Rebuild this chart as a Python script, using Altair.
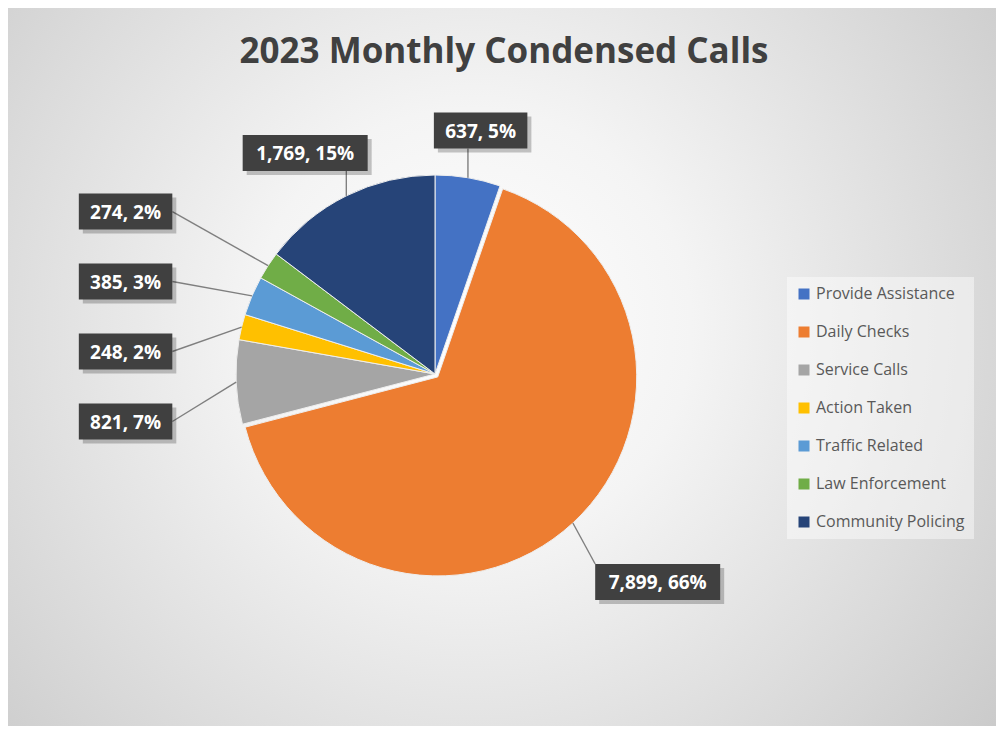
import json
import math
import altair as alt
import pandas as pd

# ---- data ----
categories = ["Provide Assistance", "Daily Checks", "Service Calls", "Action Taken",
              "Traffic Related", "Law Enforcement", "Community Policing"]
calls = [637, 7899, 821, 248, 385, 274, 1769]
colors = ["#4472C4", "#ED7D31", "#A5A5A5", "#FFC000", "#5B9BD5", "#70AD47", "#264478"]
exploded = ["Daily Checks"]
title_text = "2023 Monthly Condensed Calls"

# ---- layout constants ----
W, H = 988, 718
CX, CY, R = 427, 366, 199
EXPLODE = 4
LBL_R = 1.15      # radial distance factor for labels (top / right)
LBL_R_DOWN = 0.25 # extra distance for labels in the lower half
LEFT_COL = 1.32   # left label column (box right edge) as factor of R
LEFT_R = 1.5      # vertical spread factor for left labels
ROW_GAP = 70      # minimum vertical gap between left labels
HH = 18           # half box height

df = pd.DataFrame({"cat": categories, "calls": calls, "idx": list(range(len(categories)))})
total = int(sum(calls))

base = (
    alt.Chart(df)
    .transform_joinaggregate(total="sum(calls)")
    .transform_window(cum="sum(calls)", sort=[alt.SortField("idx")], frame=[None, 0])
    .transform_calculate(
        t0="datum.cum - datum.calls",
        mid="(datum.cum - datum.calls / 2) / datum.total * 2 * PI",
        label="format(datum.calls, ',') + ', ' + round(datum.calls / datum.total * 100) + '%'",
        dx="sin(datum.mid)",
        dy="-cos(datum.mid)",
        exp=f"indexof({json.dumps(exploded)}, datum.cat) >= 0 ? {EXPLODE} : 0",
        px=f"{CX} + datum.exp * datum.dx",
        py=f"{CY} + datum.exp * datum.dy",
        ex=f"datum.px + {R} * datum.dx",
        ey=f"datum.py + {R} * datum.dy",
        hw="(length(datum.label) * 10.5 + 20) / 2",
        side="datum.dx < -0.7 ? 'left' : 'other'",
        rl=f"{R} * ({LBL_R} + {LBL_R_DOWN} * max(datum.dy, 0))",
        lx=(f"datum.side == 'left' ? {CX} - {R * LEFT_COL} - datum.hw : "
            f"{CX} + datum.rl * datum.dx + datum.dx * datum.hw"),
        ly_raw=(f"datum.side == 'left' ? {CY} + {R * LEFT_R} * datum.dy : "
                f"{CY} + datum.rl * datum.dy + datum.dy * {HH}"),
    )
    .transform_window(k="row_number()", groupby=["side"], sort=[alt.SortField("ly_raw")])
    .transform_calculate(tmp=f"datum.ly_raw - datum.k * {ROW_GAP}")
    .transform_window(m="max(tmp)", groupby=["side"], sort=[alt.SortField("ly_raw")], frame=[None, 0])
    .transform_calculate(
        ly=f"datum.side == 'left' ? datum.m + datum.k * {ROW_GAP} : datum.ly_raw",
    )
    .transform_calculate(
        bx0="datum.lx - datum.hw", bx1="datum.lx + datum.hw",
        by0=f"datum.ly - {HH}", by1=f"datum.ly + {HH}",
        sx0="datum.lx - datum.hw + 4", sx1="datum.lx + datum.hw + 4",
        sy0=f"datum.ly - {HH} + 4", sy1=f"datum.ly + {HH} + 4",
        axx="datum.side == 'left' ? datum.lx + datum.hw : clamp(datum.ex, datum.lx - datum.hw, datum.lx + datum.hw)",
        axy=f"datum.side == 'left' ? datum.ly : clamp(datum.ey, datum.ly - {HH}, datum.ly + {HH})",
    )
)

def X(f):
    return alt.X(f"{f}:Q", scale=None, axis=None)

def Y(f):
    return alt.Y(f"{f}:Q", scale=None, axis=None)

gradient = alt.RadialGradient(
    gradient="radial",
    stops=[alt.GradientStop(color="#ffffff", offset=0),
           alt.GradientStop(color="#f4f4f4", offset=0.3),
           alt.GradientStop(color="#c4c4c4", offset=1)],
    x1=0.47, y1=0.46, r1=0, x2=0.47, y2=0.46, r2=0.74,
)

bg = alt.Chart(alt.Data(values=[{"a": 1}])).mark_rect(fill=gradient).encode(
    x=alt.value(0), x2=alt.value(W), y=alt.value(0), y2=alt.value(H)
)

arcs = base.mark_arc(outerRadius=R, stroke="#eeeeee", strokeWidth=1).encode(
    theta=alt.Theta("t0:Q", scale=alt.Scale(domain=[0, total], range=[0, 2 * math.pi]), stack=None),
    theta2="cum:Q",
    x=X("px"),
    y=Y("py"),
    color=alt.Color(
        "cat:N",
        scale=alt.Scale(domain=categories, range=colors),
        legend=alt.Legend(
            orient="none", legendX=779, legendY=269, title=None,
            symbolType="square", symbolSize=121, symbolStrokeWidth=0, symbolOpacity=1,
            labelFont="Open Sans", labelFontSize=16, labelColor="#595959",
            rowPadding=22, padding=9, labelOffset=4, labelLimit=300,
            fillColor="rgba(255,255,255,0.45)",
        ),
    ),
)

leaders = base.mark_rule(color="#7f7f7f", strokeWidth=1.4).encode(
    x=X("ex"), y=Y("ey"), x2="axx:Q", y2="axy:Q"
)

shadows = base.mark_rect(fill="#000000", opacity=0.22).encode(
    x=X("sx0"), x2="sx1:Q", y=Y("sy0"), y2="sy1:Q"
)

boxes = base.mark_rect(fill="#404040").encode(
    x=X("bx0"), x2="bx1:Q", y=Y("by0"), y2="by1:Q"
)

texts = base.mark_text(
    font="Open Sans", fontSize=19, fontWeight="bold", color="#ffffff",
    align="center", baseline="middle", dy=1,
).encode(x=X("lx"), y=Y("ly"), text="label:N")

title = alt.Chart(alt.Data(values=[{"t": title_text}])).mark_text(
    font="Open Sans", fontSize=35, fontWeight="bold", color="#404040",
    align="center", baseline="alphabetic",
).encode(x=alt.value(496), y=alt.value(55), text="t:N")

chart = (
    alt.layer(bg, arcs, leaders, shadows, boxes, texts, title)
    .properties(width=W, height=H, padding=0)
    .configure_view(stroke="#d0d0d0", strokeWidth=1)
)

chart.save("out.html", embed_options={"renderer": "svg", "actions": False})
